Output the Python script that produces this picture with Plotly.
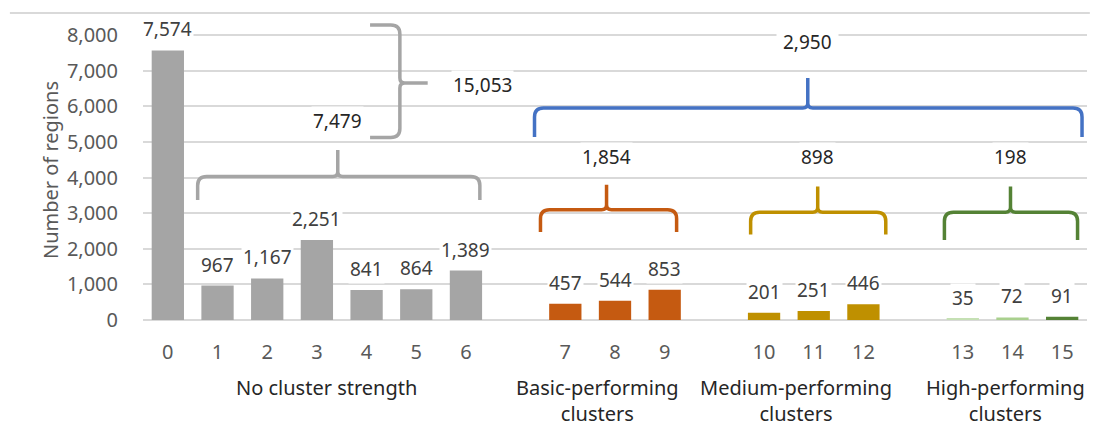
import plotly.graph_objects as go

# ---- data ----
categories = [str(i) for i in range(16)]
values = [7574, 967, 1167, 2251, 841, 864, 1389, 457, 544, 853, 201, 251, 446, 35, 72, 91]
group_of = [0, 0, 0, 0, 0, 0, 0, 1, 1, 1, 2, 2, 2, 3, 3, 3]
group_names = ["No cluster strength", "Basic-performing<br>clusters",
               "Medium-performing<br>clusters", "High-performing<br>clusters"]
group_totals = [7479, 1854, 898, 198]
total_no_strength = 15053
total_clusters = 2950

# ---- styles ----
bar_colors = ["#a5a5a5"] * 7 + ["#c55a11"] * 3 + ["#bf9000"] * 3 + ["#c5e0b4", "#a9d08e", "#548235"]
brace_colors = ["#a5a5a5", "#c55a11", "#bf9000", "#548235"]
FONT = "Noto Sans"
FS = 20

# x position = index + one empty slot between groups
xpos = [i + g for i, g in enumerate(group_of)]

fig = go.Figure()
fig.add_trace(go.Bar(x=xpos, y=values, marker_color=bar_colors, width=0.65,
                     marker_line_width=0, showlegend=False, hoverinfo="x+y"))

# bar value labels
for x, v in zip(xpos, values):
    fig.add_annotation(x=x, y=v, text=f"{v:,}", showarrow=False, yanchor="middle",
                       yshift=21, bgcolor="white", borderpad=1,
                       font=dict(family=FONT, size=19, color="#404040"))

PX = 1 / 49.7      # data units per px (x)
PY = 1000 / 35.6   # data units per px (y)


def hbrace(x0, x1, xm, y, yend, ytip, color):
    rx, ry = 9 * PX, 9 * PY
    t = 5 * PX
    p = (f"M {x0},{yend} L {x0},{y - ry} Q {x0},{y} {x0 + rx},{y} "
         f"L {xm - t},{y} Q {xm},{y} {xm},{y + 5 * PY} L {xm},{ytip} "
         f"M {xm},{y + 5 * PY} Q {xm},{y} {xm + t},{y} "
         f"L {x1 - rx},{y} Q {x1},{y} {x1},{y - ry} L {x1},{yend}")
    fig.add_shape(type="path", path=p, xref="x", yref="y",
                  line=dict(color=color, width=3.5), layer="above")


# gray brace over groups 0..6 (7,479)
hbrace(0.60, 6.28, 3.42, 4030, 3370, 4780, brace_colors[0])
# orange / gold / green braces
hbrace(7.50, 10.24, 8.83, 3100, 2470, 3800, brace_colors[1])
hbrace(11.73, 14.45, 13.08, 3030, 2400, 3750, brace_colors[2])
hbrace(15.63, 18.31, 16.96, 3030, 2250, 3750, brace_colors[3])
# blue brace over all cluster groups (2,950)
hbrace(7.38, 18.40, 12.88, 5960, 5140, 6800, "#4472c4")

# vertical brace (15,053)
vx = 4.67
xt, xb = 8290, 5130
xm_y = 6660
rx, ry = 9 * PX, 9 * PY
p = (f"M {vx - 0.6},{xt} L {vx - rx},{xt} Q {vx},{xt} {vx},{xt - ry} "
     f"L {vx},{xm_y + 5 * PY} Q {vx},{xm_y} {vx + 5 * PX},{xm_y} L {5.23},{xm_y} "
     f"M {vx + 5 * PX},{xm_y} Q {vx},{xm_y} {vx},{xm_y - 5 * PY} "
     f"L {vx},{xb + ry} Q {vx},{xb} {vx - rx},{xb} L {vx - 0.6},{xb}")
fig.add_shape(type="path", path=p, xref="x", yref="y",
              line=dict(color="#a5a5a5", width=3.5), layer="above")

# brace labels
lbl_font = dict(family=FONT, size=19, color="#262626")
fig.add_annotation(x=3.42, y=5590, text=f"{group_totals[0]:,}", showarrow=False,
                   font=lbl_font, bgcolor="white")
fig.add_annotation(x=8.83, y=4580, text=f"{group_totals[1]:,}", showarrow=False,
                   font=lbl_font, bgcolor="white")
fig.add_annotation(x=13.08, y=4580, text=f"{group_totals[2]:,}", showarrow=False,
                   font=lbl_font, bgcolor="white")
fig.add_annotation(x=16.96, y=4580, text=f"{group_totals[3]:,}", showarrow=False,
                   font=lbl_font, bgcolor="white")
fig.add_annotation(x=6.34, y=6600, text=f"{total_no_strength:,}", showarrow=False,
                   font=lbl_font, bgcolor="white")
fig.add_annotation(x=12.88, y=7810, text=f"{total_clusters:,}", showarrow=False,
                   font=lbl_font, bgcolor="white", borderpad=6)

# group names below the axis
group_x = [3.2, 8.65, 12.65, 16.85]
for gx, name in zip(group_x, group_names):
    fig.add_annotation(x=gx, y=0, xref="x", yref="paper", yshift=-52, yanchor="top",
                       text=name, showarrow=False, align="center",
                       font=dict(family=FONT, size=FS, color="#262626"))

# top border line
fig.add_shape(type="line", xref="paper", yref="paper",
              x0=-0.141, x1=1.003, y0=1.023, y1=1.023,
              line=dict(color="#d9d9d9", width=2))

fig.update_layout(
    width=1101, height=429,
    margin=dict(l=143, r=14, t=20, b=109, autoexpand=False),
    paper_bgcolor="white", plot_bgcolor="white",
    font=dict(family=FONT, size=FS, color="#595959"),
    bargap=0.35,
)
fig.update_xaxes(range=[-0.5, 18.5], tickvals=xpos, ticktext=categories,
                 showgrid=False, zeroline=False, ticks="", ticklabelstandoff=18,
                 automargin=False,
                 tickfont=dict(family=FONT, size=FS, color="#595959"))
fig.update_yaxes(range=[0, 8430], tickvals=list(range(0, 8001, 1000)),
                 tickformat=",", showgrid=True, gridcolor="#d9d9d9", gridwidth=1.5,
                 zeroline=True, zerolinecolor="#d9d9d9", zerolinewidth=1.5,
                 ticks="", ticklabelstandoff=24, automargin=False,
                 tickfont=dict(family=FONT, size=FS, color="#595959"),
                 title=dict(text="Number of regions", standoff=2,
                            font=dict(family=FONT, size=FS, color="#595959")))

fig.write_html("out.html", config={"displayModeBar": False},
               post_script="document.body.style.margin='0';document.body.style.overflow='hidden';")
